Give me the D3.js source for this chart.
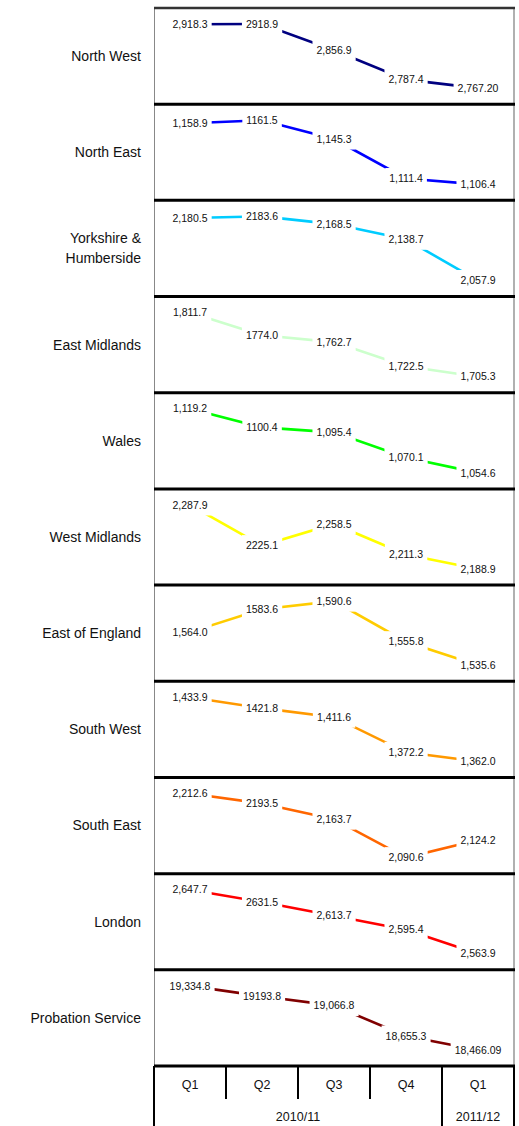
<!DOCTYPE html>
<html>
<head>
<meta charset="utf-8">
<script src="https://cdn.jsdelivr.net/npm/d3@7"></script>
<style>
  html, body { margin: 0; padding: 0; background: #fff; }
  svg { display: block; font-family: "Liberation Sans", Arial, sans-serif; }
</style>
</head>
<body>
<svg id="chart" width="519" height="1126"></svg>
<script>
// Quarterly caseload by probation region, 2010/11 Q1 to 2011/12 Q1
const quarters = ["Q1", "Q2", "Q3", "Q4", "Q1"];
const years = [
  { label: "2010/11", first: 0, last: 3 },
  { label: "2011/12", first: 4, last: 4 }
];

const regions = [
  "North West", "North East", "Yorkshire & Humberside", "East Midlands", "Wales",
  "West Midlands", "East of England", "South West", "South East", "London", "Probation Service"
];
const regionLines = [
  ["North West"], ["North East"], ["Yorkshire &", "Humberside"], ["East Midlands"], ["Wales"],
  ["West Midlands"], ["East of England"], ["South West"], ["South East"], ["London"], ["Probation Service"]
];
const regionColors = [
  "#000080", "#0000ff", "#00ccff", "#ccffcc", "#00ff00",
  "#ffff00", "#ffcc00", "#ff9900", "#ff6600", "#ff0000", "#800000"
];

const northWest       = [2918.3, 2918.9, 2856.9, 2787.4, 2767.20];
const northEast       = [1158.9, 1161.5, 1145.3, 1111.4, 1106.4];
const yorkshire       = [2180.5, 2183.6, 2168.5, 2138.7, 2057.9];
const eastMidlands    = [1811.7, 1774.0, 1762.7, 1722.5, 1705.3];
const wales           = [1119.2, 1100.4, 1095.4, 1070.1, 1054.6];
const westMidlands    = [2287.9, 2225.1, 2258.5, 2211.3, 2188.9];
const eastOfEngland   = [1564.0, 1583.6, 1590.6, 1555.8, 1535.6];
const southWest       = [1433.9, 1421.8, 1411.6, 1372.2, 1362.0];
const southEast       = [2212.6, 2193.5, 2163.7, 2090.6, 2124.2];
const london          = [2647.7, 2631.5, 2613.7, 2595.4, 2563.9];
const probationService = [19334.8, 19193.8, 19066.8, 18655.3, 18466.09];

// Label text as printed (formatting is not uniform across points)
const northWestText       = ["2,918.3", "2918.9", "2,856.9", "2,787.4", "2,767.20"];
const northEastText       = ["1,158.9", "1161.5", "1,145.3", "1,111.4", "1,106.4"];
const yorkshireText       = ["2,180.5", "2183.6", "2,168.5", "2,138.7", "2,057.9"];
const eastMidlandsText    = ["1,811.7", "1774.0", "1,762.7", "1,722.5", "1,705.3"];
const walesText           = ["1,119.2", "1100.4", "1,095.4", "1,070.1", "1,054.6"];
const westMidlandsText    = ["2,287.9", "2225.1", "2,258.5", "2,211.3", "2,188.9"];
const eastOfEnglandText   = ["1,564.0", "1583.6", "1,590.6", "1,555.8", "1,535.6"];
const southWestText       = ["1,433.9", "1421.8", "1,411.6", "1,372.2", "1,362.0"];
const southEastText       = ["2,212.6", "2193.5", "2,163.7", "2,090.6", "2,124.2"];
const londonText          = ["2,647.7", "2631.5", "2,613.7", "2,595.4", "2,563.9"];
const probationServiceText = ["19,334.8", "19193.8", "19,066.8", "18,655.3", "18,466.09"];

const seriesValues = [northWest, northEast, yorkshire, eastMidlands, wales, westMidlands,
  eastOfEngland, southWest, southEast, london, probationService];
const seriesText = [northWestText, northEastText, yorkshireText, eastMidlandsText, walesText,
  westMidlandsText, eastOfEnglandText, southWestText, southEastText, londonText, probationServiceText];

const svg = d3.select("#chart");

const plotLeft = 154, plotRight = 514, plotTop = 8, plotBottom = 1066;
const axisBottom = 1126;

const x = d3.scaleBand().domain(d3.range(quarters.length)).range([plotLeft, plotRight]).padding(0);
const row = d3.scaleBand().domain(d3.range(regions.length)).range([plotTop, plotBottom]).padding(0);
const cx = i => x(i) + x.bandwidth() / 2;

// Each panel has its own value axis, padded by a quarter of the data span
regions.forEach((name, r) => {
  const vals = seriesValues[r];
  const lo = d3.min(vals), hi = d3.max(vals), pad = (hi - lo) * 0.25;
  const y = d3.scaleLinear().domain([lo - pad, hi + pad]).range([row(r) + row.bandwidth(), row(r)]);

  const g = svg.append("g").attr("class", "panel");

  const line = d3.line().x((d, i) => cx(i)).y(d => y(d));
  g.append("path")
    .datum(vals)
    .attr("d", line)
    .attr("fill", "none")
    .attr("stroke", regionColors[r])
    .attr("stroke-width", 2.6);

  const labels = g.selectAll("g.lbl").data(vals).enter().append("g")
    .attr("class", "lbl")
    .attr("transform", (d, i) => `translate(${cx(i)},${y(d)})`);

  labels.append("rect").attr("fill", "#fff");
  labels.append("text")
    .attr("text-anchor", "middle")
    .attr("dy", "0.35em")
    .attr("font-size", 10.5)
    .attr("fill", "#111")
    .text((d, i) => seriesText[r][i]);

  labels.each(function () {
    const t = d3.select(this).select("text").node().getBBox();
    d3.select(this).select("rect")
      .attr("x", t.x - 4).attr("width", t.width + 8)
      .attr("y", -10.5).attr("height", 21);
  });

  // Region name on the left
  const lines = regionLines[r];
  const midY = row(r) + row.bandwidth() / 2;
  const txt = svg.append("text")
    .attr("x", 141)
    .attr("text-anchor", "end")
    .attr("font-size", 14)
    .attr("fill", "#111");
  lines.forEach((l, k) => {
    txt.append("tspan")
      .attr("x", 141)
      .attr("y", midY + (k - (lines.length - 1) / 2) * 20)
      .attr("dy", "0.35em")
      .text(l);
  });
});

// Frame: left and right edges, top rule, panel separators
svg.append("line").attr("x1", plotLeft + 0.5).attr("x2", plotLeft + 0.5)
  .attr("y1", plotTop).attr("y2", plotBottom).attr("stroke", "#888").attr("stroke-width", 1);
svg.append("line").attr("x1", plotRight).attr("x2", plotRight)
  .attr("y1", plotTop).attr("y2", plotBottom).attr("stroke", "#b0b0b0").attr("stroke-width", 2);
svg.append("line").attr("x1", plotLeft).attr("x2", plotRight + 1)
  .attr("y1", plotTop).attr("y2", plotTop).attr("stroke", "#333").attr("stroke-width", 2.5);

svg.selectAll("line.sep").data(d3.range(1, regions.length + 1)).enter().append("line")
  .attr("class", "sep")
  .attr("x1", plotLeft).attr("x2", plotRight + 1)
  .attr("y1", r => row(r) !== undefined ? row(r) : plotBottom)
  .attr("y2", r => row(r) !== undefined ? row(r) : plotBottom)
  .attr("stroke", "#000").attr("stroke-width", 3);

// Category axis: quarter ticks and financial-year groups
const axisG = svg.append("g").attr("class", "cat-axis");
const groupEdges = new Set([0, quarters.length]);
years.forEach(yr => { groupEdges.add(yr.first); groupEdges.add(yr.last + 1); });

d3.range(quarters.length + 1).forEach(i => {
  const xx = i < quarters.length ? x(i) : plotRight;
  const full = groupEdges.has(i);
  axisG.append("line")
    .attr("x1", xx).attr("x2", xx)
    .attr("y1", plotBottom).attr("y2", full ? axisBottom : 1099)
    .attr("stroke", "#000").attr("stroke-width", 2);
});

axisG.selectAll("text.q").data(quarters).enter().append("text")
  .attr("class", "q")
  .attr("x", (d, i) => cx(i))
  .attr("y", 1085)
  .attr("dy", "0.35em")
  .attr("text-anchor", "middle")
  .attr("font-size", 12.5)
  .attr("fill", "#111")
  .text(d => d);

axisG.selectAll("text.yr").data(years).enter().append("text")
  .attr("class", "yr")
  .attr("x", d => (x(d.first) + (d.last + 1 < quarters.length ? x(d.last + 1) : plotRight)) / 2)
  .attr("y", 1117)
  .attr("dy", "0.35em")
  .attr("text-anchor", "middle")
  .attr("font-size", 12.5)
  .attr("fill", "#111")
  .text(d => d.label);
</script>
</body>
</html>
